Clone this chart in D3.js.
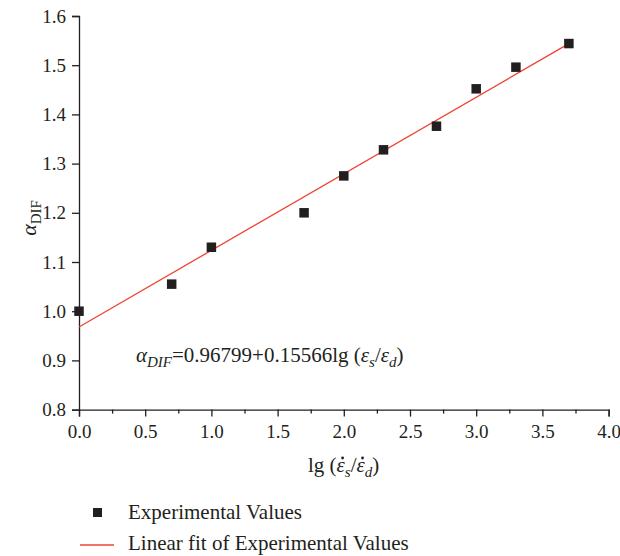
<!DOCTYPE html>
<html>
<head>
<meta charset="utf-8">
<script src="https://cdn.jsdelivr.net/npm/d3@7"></script>
<style>
  body { margin: 0; background: #fff; }
  svg text { font-family: "Liberation Serif", "DejaVu Serif", serif; fill: #231f20; }
</style>
</head>
<body>
<svg id="chart" width="620" height="556"></svg>
<script>
// data
var lgRate = [0, 0.7, 1.0, 1.7, 2.0, 2.3, 2.7, 3.0, 3.3, 3.7];
var dif = [1.0, 1.055, 1.13, 1.2, 1.275, 1.328, 1.376, 1.452, 1.496, 1.544];
var fitIntercept = 0.96799;
var fitSlope = 0.15566;
var xTicks = [0, 0.5, 1.0, 1.5, 2.0, 2.5, 3.0, 3.5, 4.0];
var yTicks = [0.8, 0.9, 1.0, 1.1, 1.2, 1.3, 1.4, 1.5, 1.6];

var plotLeft = 79, plotRight = 608.6, plotTop = 16, plotBottom = 409.6;
var ink = '#231f20', red = '#ee4430';

var svg = d3.select('#chart');
var x = d3.scaleLinear().domain([0, 4]).range([plotLeft, plotRight]);
var y = d3.scaleLinear().domain([0.8, 1.6]).range([plotBottom, plotTop]);

// x axis with minor ticks
svg.append('g').attr('transform', 'translate(0,' + plotBottom + ')')
  .call(d3.axisBottom(x).tickValues(xTicks).tickFormat(d3.format('.1f')).tickSize(7).tickPadding(8));
svg.append('g').attr('transform', 'translate(0,' + plotBottom + ')')
  .call(d3.axisBottom(x).tickValues(d3.range(0.25, 4, 0.5)).tickFormat('').tickSize(4))
  .select('.domain').remove();

svg.append('g').attr('transform', 'translate(' + plotLeft + ',0)')
  .call(d3.axisLeft(y).tickValues(yTicks).tickFormat(d3.format('.1f')).tickSize(7).tickPadding(6));

svg.selectAll('.domain').attr('stroke', ink).attr('stroke-width', 1.3);
svg.selectAll('.tick line').attr('stroke', ink).attr('stroke-width', 1.3);
svg.selectAll('.tick text').attr('font-size', 19).attr('fill', ink);

// fit line
var fitLine = d3.line().x(function (d) { return x(d); })
  .y(function (d) { return y(fitIntercept + fitSlope * d); });
svg.append('path')
  .attr('d', fitLine([0, d3.max(lgRate)]))
  .attr('stroke', red).attr('stroke-width', 1.3).attr('fill', 'none');

// points
var ms = 9.5;
svg.selectAll('rect.pt').data(lgRate).enter().append('rect')
  .attr('class', 'pt')
  .attr('x', function (d) { return x(d) - ms / 2; })
  .attr('y', function (d, i) { return y(dif[i]) - ms / 2; })
  .attr('width', ms).attr('height', ms)
  .attr('fill', ink);

// equation
var eq = svg.append('text').attr('x', 136).attr('y', 362).attr('font-size', 21);
eq.append('tspan').attr('font-style', 'italic').text('α');
eq.append('tspan').attr('font-style', 'italic').attr('font-size', 15).attr('dy', 5).text('DIF');
eq.append('tspan').attr('dy', -5).text('=0.96799+0.15566lg (');
eq.append('tspan').attr('font-style', 'italic').text('ε');
eq.append('tspan').attr('font-style', 'italic').attr('font-size', 15).attr('dy', 5).text('s');
eq.append('tspan').attr('dy', -5).text('/');
eq.append('tspan').attr('font-style', 'italic').text('ε');
eq.append('tspan').attr('font-style', 'italic').attr('font-size', 15).attr('dy', 5).text('d');
eq.append('tspan').attr('dy', -5).text(')');

// x label; the rate dots over the epsilons are drawn as small circles
var xlY = 472;
var xl = svg.append('text').attr('x', 308).attr('y', xlY).attr('font-size', 21);
xl.append('tspan').text('lg (');
xl.append('tspan').attr('class', 'dotted').attr('font-style', 'italic').text('ε');
xl.append('tspan').attr('font-style', 'italic').attr('font-size', 15).attr('dy', 5).text('s');
xl.append('tspan').attr('dy', -5).text('/');
xl.append('tspan').attr('class', 'dotted').attr('font-style', 'italic').text('ε');
xl.append('tspan').attr('font-style', 'italic').attr('font-size', 15).attr('dy', 5).text('d');
xl.append('tspan').attr('dy', -5).text(')');
xl.selectAll('.dotted').each(function () {
  var b = this.getBBox();
  svg.append('circle').attr('cx', b.x + b.width / 2 + 1.5).attr('cy', xlY - 14)
    .attr('r', 1.4).attr('fill', ink);
});

// y label
var yl = svg.append('text').attr('transform', 'translate(36,218) rotate(-90)')
  .attr('font-size', 22).attr('text-anchor', 'middle');
yl.append('tspan').attr('font-style', 'italic').text('α');
yl.append('tspan').attr('font-size', 15).attr('dy', 5).text('DIF');

// legend
var lg = svg.append('g');
lg.append('rect').attr('x', 93).attr('y', 508).attr('width', 9).attr('height', 9).attr('fill', ink);
lg.append('text').attr('x', 128).attr('y', 519).attr('font-size', 21).text('Experimental Values');
lg.append('line').attr('x1', 80).attr('x2', 114).attr('y1', 545).attr('y2', 545)
  .attr('stroke', red).attr('stroke-width', 1.3);
lg.append('text').attr('x', 128).attr('y', 550).attr('font-size', 21).text('Linear fit of Experimental Values');
</script>
</body>
</html>
